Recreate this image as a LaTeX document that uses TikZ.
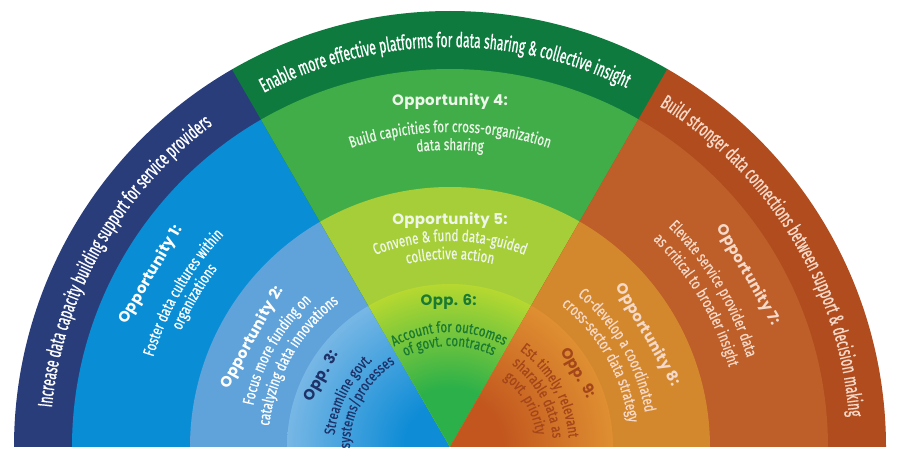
\documentclass[tikz,border=0pt]{standalone}
\usepackage{fontspec}
\usetikzlibrary{decorations.text}
\newfontfamily\bandfont[FakeStretch=0.59,FakeBold=0.8]{Fira Sans}
\newfontfamily\descfont[FakeStretch=0.73,FakeBold=0.5]{Fira Sans}
\newfontfamily\smallfont[FakeStretch=0.77,FakeBold=0.5]{Fira Sans}
\newfontfamily\headfont[LetterSpace=2]{Poppins}
\definecolor{bandL}{HTML}{2A3D7B}
\definecolor{ringLa}{HTML}{098ED6}
\definecolor{ringLb}{HTML}{60A3DA}
\definecolor{cLout}{HTML}{A6CAEC}
\definecolor{cLin}{HTML}{0E8CD6}
\definecolor{bandM}{HTML}{0E7A3E}
\definecolor{ringMa}{HTML}{40AD49}
\definecolor{ringMb}{HTML}{A6CE39}
\definecolor{cMout}{HTML}{E2E528}
\definecolor{cMin}{HTML}{2BB04A}
\definecolor{bandR}{HTML}{B04C1E}
\definecolor{ringRa}{HTML}{BE5E28}
\definecolor{ringRb}{HTML}{D3882E}
\definecolor{cRout}{HTML}{EBA73A}
\definecolor{cRin}{HTML}{C2561E}
\definecolor{txtR}{HTML}{F6D9C8}
\definecolor{txtThree}{HTML}{1E3269}
\definecolor{txtSix}{HTML}{1B7A32}
\definecolor{txtNine}{HTML}{A4461A}
\definecolor{txtM}{HTML}{EEF6EA}
\pgfdeclareradialshading{shL}{\pgfpoint{0bp}{0bp}}{color(0bp)=(cLin);color(7bp)=(cLin);color(33bp)=(cLout);color(50bp)=(cLout)}
\pgfdeclareradialshading{shM}{\pgfpoint{0bp}{0bp}}{color(0bp)=(cMin);color(9bp)=(cMin);color(30bp)=(cMout);color(50bp)=(cMout)}
\pgfdeclareradialshading{shR}{\pgfpoint{0bp}{0bp}}{color(0bp)=(cRin);color(8bp)=(cRin);color(32bp)=(cRout);color(50bp)=(cRout)}
\newcommand\PieSec[4]{\fill[#4] (C) -- ([shift={(#1:#3)}]C) arc[start angle=#1, end angle=#2, radius=#3] -- cycle;}
\newcommand\ShadeSec[3]{\begin{scope}\clip (C) -- ([shift={(#1:163)}]C) arc[start angle=#1, end angle=#2, radius=163] -- cycle;
  \shade[shading=#3] (C) circle[radius=163];\end{scope}}
% #1 centre angle, #2 baseline radius, #3 format, #4 text
\newcommand\ArcTxt[4]{\path[decorate,decoration={text along path,text align=center,text={|#3|#4}}]
  ([shift={(#1+40:#2)}]C) arc[start angle=#1+40, end angle=#1-40, radius=#2];}
\newcommand\bandfmt{\bandfont\fontsize{20.5}{20.5}\selectfont}
\newcommand\descfmt{\descfont\fontsize{16}{16}\selectfont}
\newcommand\smallfmt{\smallfont\fontsize{15}{15}\selectfont}
\begin{document}
\begin{tikzpicture}[x=1pt,y=1pt,
  head/.style={font=\headfont\bfseries\fontsize{15}{15}\selectfont, inner sep=0pt}]
\useasboundingbox (0,0) rectangle (900,465);
\fill[white] (0,0) rectangle (900,465);
\coordinate (C) at (450,18);
% left sector
\PieSec{119.9}{180}{436}{bandL}
\PieSec{119.9}{180}{378}{ringLa}
\PieSec{119.9}{180}{260}{ringLb}
\ShadeSec{119.9}{180}{shL}
% middle sector
\PieSec{60}{120}{436}{bandM}
\PieSec{60}{120}{378}{ringMa}
\PieSec{60}{120}{260}{ringMb}
\ShadeSec{60}{120}{shM}
% right sector
\PieSec{0}{60.1}{436}{bandR}
\PieSec{0}{60.1}{378}{ringRa}
\PieSec{0}{60.1}{260}{ringRb}
\ShadeSec{0}{60.1}{shR}
% outer band texts
\ArcTxt{150.4}{400}{\bandfmt\color{white}}{Increase data capacity building support for service providers}
\ArcTxt{90.8}{400}{\bandfmt\color{white}}{Enable more effective platforms for data sharing {\&} collective insight}
\ArcTxt{31.4}{400}{\bandfmt\color{txtR}}{Build stronger data connections between support {\&} decision making}
% left sector texts
\node[head,text=white,rotate=60] (h1) at ([shift={(150:345)}]C) {Opportunity 1:};
\ArcTxt{150}{310}{\descfmt\color{white}}{Foster data cultures within}
\ArcTxt{149.6}{293}{\descfmt\color{white}}{organizations}
\node[head,text=white,rotate=61] (h2) at ([shift={(151:226)}]C) {Opportunity 2:};
\ArcTxt{150.8}{201}{\descfmt\color{white}}{Focus more funding on}
\ArcTxt{150.5}{182}{\descfmt\color{white}}{catalyzing data innovations}
\node[head,text=txtThree,rotate=61] (h3) at ([shift={(151:146)}]C) {Opp. 3:};
\ArcTxt{153}{116}{\smallfmt\color{txtThree}}{Streamline govt.}
\ArcTxt{152}{100}{\smallfmt\color{txtThree}}{systems/processes}
% middle sector texts
\node[head,text=txtM] (h4) at ([shift={(90:346)}]C) {Opportunity 4:};
\ArcTxt{90}{315}{\descfmt\color{txtM}}{Build capicities for cross-organization}
\ArcTxt{90}{297}{\descfmt\color{txtM}}{data sharing}
\node[head,text=txtSix] (h6) at ([shift={(90.5:145)}]C) {Opp. 6:};
\node[head,text=txtM] (h5) at ([shift={(90:227)}]C) {Opportunity 5:};
\ArcTxt{90}{206}{\descfmt\color{txtM}}{Convene {\&} fund data-guided}
\ArcTxt{90}{188}{\descfmt\color{txtM}}{collective action}
\ArcTxt{90.5}{115}{\smallfmt\color{txtSix}}{Account for outcomes}
\ArcTxt{90.5}{101}{\smallfmt\color{txtSix}}{of govt. contracts}
% right sector texts
\node[head,text=txtR,rotate=-60] (h7) at ([shift={(30:344)}]C) {Opportunity 7:};
\ArcTxt{31}{310}{\descfmt\color{txtR}}{Elevate service provider data}
\ArcTxt{30.8}{290}{\descfmt\color{txtR}}{as critical to broader insight}
\node[head,text=txtR,rotate=-60] (h8) at ([shift={(29.6:227)}]C) {Opportunity 8:};
\ArcTxt{30}{198}{\descfmt\color{txtR}}{Co-develop a coordinated}
\ArcTxt{29.8}{180}{\descfmt\color{txtR}}{cross-sector data strategy}
\node[head,text=txtNine,rotate=-60] (h9) at ([shift={(30:147)}]C) {Opp. 9:};
\ArcTxt{29.3}{119}{\smallfmt\color{txtNine}}{Est. timely, relevant}
\ArcTxt{29}{103}{\smallfmt\color{txtNine}}{sharable data as}
\ArcTxt{30}{87}{\smallfmt\color{txtNine}}{govt. priority}
\end{tikzpicture}
\end{document}
